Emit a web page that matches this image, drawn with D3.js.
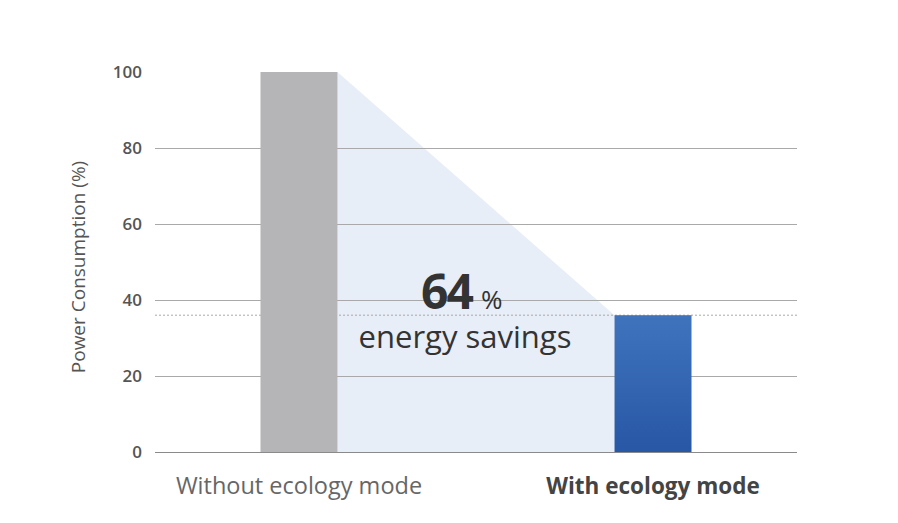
<!DOCTYPE html>
<html>
<head>
<meta charset="utf-8">
<script src="https://cdn.jsdelivr.net/npm/d3@7"></script>
<style>
  body { margin: 0; background: #fff; }
  text { font-family: "Open Sans", "Noto Sans", sans-serif; }
</style>
</head>
<body>
<div class="canvas"></div>
<script>
const categories = ['Without ecology mode', 'With ecology mode'];
const values = [100, 36];
const yTicks = [0, 20, 40, 60, 80, 100];
const gridTicks = [0, 20, 40, 60, 80];
const savings = 64;

const dims = { width: 898, height: 523 };
const plot = { left: 155, right: 797, top: 72, bottom: 452 };

const svg = d3.select('.canvas')
    .append('svg')
    .attr('width', dims.width)
    .attr('height', dims.height);

const x = d3.scaleBand()
    .domain(categories)
    .range([plot.left, plot.right])
    .paddingInner(0.7825)
    .paddingOuter(0.298);

const y = d3.scaleLinear()
    .domain([0, 100])
    .range([plot.bottom, plot.top]);

// gradient for the eco bar
const grad = svg.append('defs').append('linearGradient')
    .attr('id', 'ecoGrad')
    .attr('x1', 0).attr('y1', 0).attr('x2', 0).attr('y2', 1);
grad.append('stop').attr('offset', '0%').attr('stop-color', '#3f74bd');
grad.append('stop').attr('offset', '100%').attr('stop-color', '#2857a5');

// shaded savings area between the bars
const x0 = x(categories[0]) + x.bandwidth();
const x1 = x(categories[1]);
svg.append('path')
    .attr('fill', '#e8eef7')
    .attr('d', `M${x0},${y(values[0])} L${x1},${y(values[1])} L${x1},${y(0)} L${x0},${y(0)} Z`);

// gridlines
svg.append('g')
    .selectAll('line')
    .data(gridTicks)
    .enter()
    .append('line')
    .attr('x1', plot.left)
    .attr('x2', plot.right)
    .attr('y1', d => y(d) + 0.5)
    .attr('y2', d => y(d) + 0.5)
    .attr('stroke', d => d === 0 ? '#8a8a8a' : '#a9a9a9')
    .attr('stroke-width', 1.2);

// dotted reference at eco value
svg.append('line')
    .attr('x1', plot.left)
    .attr('x2', plot.right)
    .attr('y1', y(values[1]))
    .attr('y2', y(values[1]))
    .attr('stroke', '#a8a8a8')
    .attr('stroke-width', 1)
    .attr('stroke-dasharray', '2,2');

// y tick labels
svg.append('g')
    .selectAll('text')
    .data(yTicks)
    .enter()
    .append('text')
    .attr('x', 142)
    .attr('y', d => y(d))
    .attr('dy', '0.36em')
    .attr('text-anchor', 'end')
    .attr('fill', '#555')
    .attr('font-size', 17)
    .attr('font-weight', 600)
    .text(d => d);

// y axis title
svg.append('text')
    .attr('transform', 'translate(85, 267) rotate(-90)')
    .attr('text-anchor', 'middle')
    .attr('fill', '#555')
    .attr('font-size', 19)
    .text('Power Consumption (%)');

// bars
svg.append('g')
    .selectAll('rect')
    .data(values)
    .enter()
    .append('rect')
    .attr('x', (d, i) => x(categories[i]))
    .attr('y', d => y(d))
    .attr('width', x.bandwidth())
    .attr('height', d => y(0) - y(d))
    .attr('fill', (d, i) => i === 0 ? '#b5b5b7' : 'url(#ecoGrad)');

// category labels
svg.append('g')
    .selectAll('text')
    .data(categories)
    .enter()
    .append('text')
    .attr('x', d => x(d) + x.bandwidth() / 2)
    .attr('y', 494)
    .attr('text-anchor', 'middle')
    .attr('fill', (d, i) => i === 0 ? '#666' : '#444')
    .attr('font-size', (d, i) => i === 0 ? 23.5 : 22.5)
    .attr('font-weight', (d, i) => i === 0 ? 400 : 700)
    .text(d => d);

// savings annotation
const note = svg.append('text')
    .attr('x', 421)
    .attr('y', 309)
    .attr('fill', '#333');
note.append('tspan')
    .attr('font-size', 48)
    .attr('font-weight', 700)
    .attr('letter-spacing', -2)
    .text(savings);
note.append('tspan')
    .attr('dx', 9)
    .attr('font-size', 26)
    .text('%');

svg.append('text')
    .attr('x', 465)
    .attr('y', 348)
    .attr('text-anchor', 'middle')
    .attr('fill', '#333')
    .attr('font-size', 31)
    .text('energy savings');
</script>
</body>
</html>
